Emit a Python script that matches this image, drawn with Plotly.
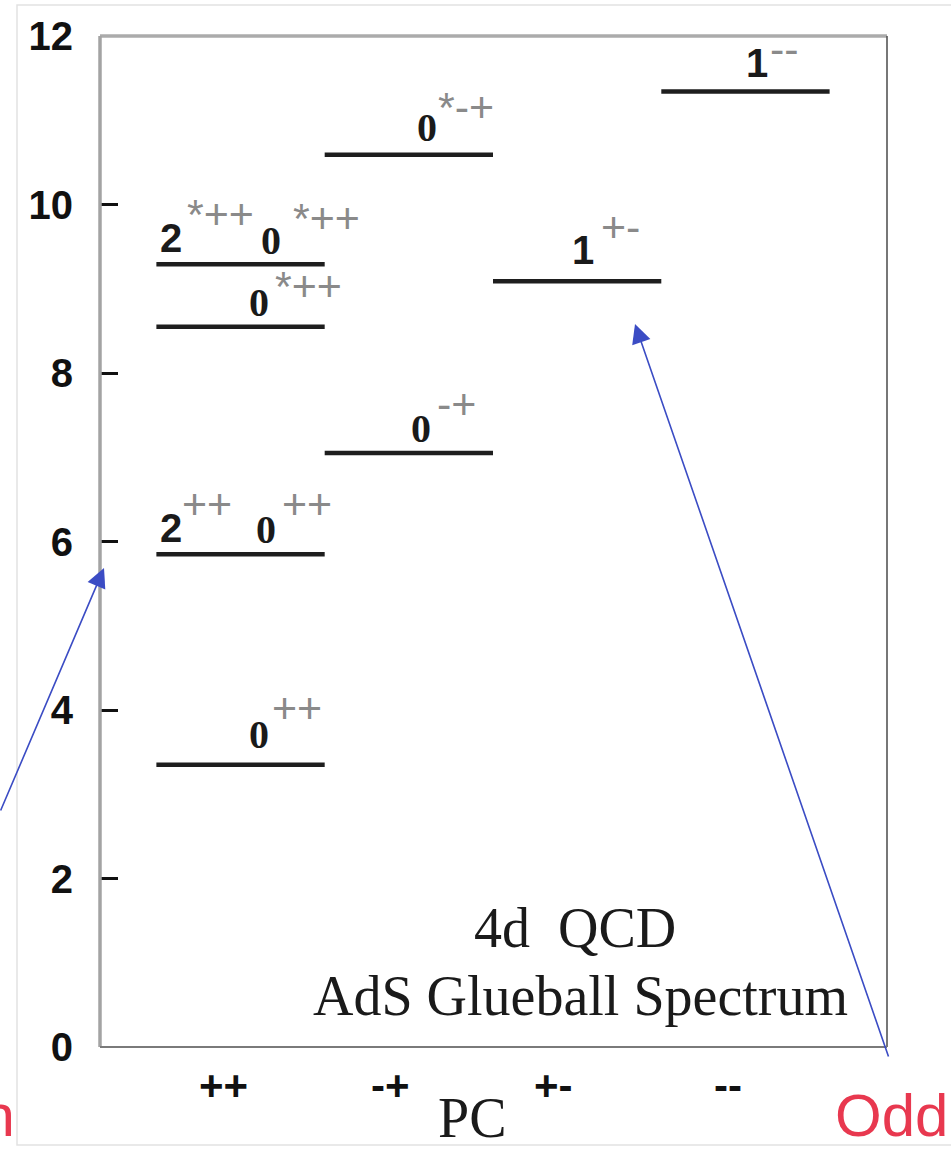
import plotly.graph_objects as go

# ---------------- data ----------------
pc_categories = ["++", "-+", "+-", "--"]
level_pc = ["++", "++", "++", "++", "-+", "-+", "+-", "--"]
level_mass = [3.35, 5.85, 8.55, 9.29, 7.05, 10.59, 9.09, 11.34]
level_states = [
    [("0", "++")],
    [("2", "++"), ("0", "++")],
    [("0", "*++")],
    [("2", "*++"), ("0", "*++")],
    [("0", "-+")],
    [("0", "*-+")],
    [("1", "+-")],
    [("1", "--")],
]
y_ticks = [0, 2, 4, 6, 8, 10, 12]
y_ticktext = ["0", "2", "4", "6", "8", "10", "12"]
title_lines = ["4d  QCD", "AdS Glueball Spectrum"]
x_title = "PC"
side_words = ["Even", "Odd"]

# ---------------- geometry helpers (pixel layout of the picture) ----------------
W, H = 951, 1150
L, R, T, B = 100, 887, 36, 1047


def px(xp):
    return (xp - L) / (R - L)


def py(yp):
    return (B - yp) / (B - T)


cat_x = {c: i + 1 for i, c in enumerate(pc_categories)}

fig = go.Figure()

# level lines
for pc, m in zip(level_pc, level_mass):
    c = cat_x[pc]
    fig.add_trace(go.Scatter(
        x=[c - 0.5, c + 0.5], y=[m, m], mode="lines",
        line=dict(color="#1e1e1e", width=4.5), showlegend=False, hoverinfo="skip"))

# label offsets in pixels (digit dx, dy, superscript dx, dy) per state
label_offsets = [
    [(18, 30, 56, 57)],
    [(-70, 26, -34, 50), (25, 25, 66, 50)],
    [(18, 24, 68, 41)],
    [(-70, 26, -20, 50), (30, 24, 86, 46)],
    [(12, 25, 48, 49)],
    [(18, 27, 57, 48)],
    [(6, 31, 43, 54)],
    [(12, 29, 39, 43)],
]

annotations = []
for pc, m, states, offs in zip(level_pc, level_mass, level_states, label_offsets):
    c = cat_x[pc]
    for (digit, sup), (dx, dy, sx, sy) in zip(states, offs):
        fam = "Liberation Serif" if digit == "0" else "Liberation Sans"
        annotations.append(dict(
            x=c, y=m, xref="x", yref="y", text=digit, showarrow=False,
            xshift=dx, yshift=dy, xanchor="center", yanchor="middle", borderpad=0,
            font=dict(family=fam, size=40, color="#1a1a1a", weight="bold")))
        annotations.append(dict(
            x=c, y=m, xref="x", yref="y", text=sup, showarrow=False,
            xshift=sx, yshift=sy, xanchor="center", yanchor="middle", borderpad=0,
            font=dict(family="Liberation Sans", size=43, color="#8a8a8a")))

# PC tick labels (below the axis)
tick_label_px = [223, 390, 553, 728]
for lab, xp in zip(pc_categories, tick_label_px):
    annotations.append(dict(
        x=px(xp), y=py(1085), xref="paper", yref="paper", text=lab, showarrow=False,
        xanchor="center", yanchor="middle",
        font=dict(family="Liberation Sans", size=42, color="#111111", weight="bold")))

# axis title
annotations.append(dict(
    x=px(472), y=py(1118), xref="paper", yref="paper", text=x_title, showarrow=False,
    xanchor="center", yanchor="middle",
    font=dict(family="Liberation Serif", size=56, color="#1a1a1a")))

# in-plot caption
annotations.append(dict(
    x=px(575), y=py(928), xref="paper", yref="paper", text=title_lines[0], showarrow=False,
    xanchor="center", yanchor="middle",
    font=dict(family="Liberation Serif", size=56, color="#1a1a1a")))
annotations.append(dict(
    x=px(580), y=py(996), xref="paper", yref="paper", text=title_lines[1], showarrow=False,
    xanchor="center", yanchor="middle",
    font=dict(family="Liberation Serif", size=56, color="#1a1a1a")))

# red side words
annotations.append(dict(
    x=px(16), y=py(1150), xref="paper", yref="paper", text=side_words[0], showarrow=False,
    xanchor="right", yanchor="bottom", borderpad=0,
    font=dict(family="Liberation Sans", size=60, color="#e8384f")))
annotations.append(dict(
    x=px(949), y=py(1150), xref="paper", yref="paper", text=side_words[1], showarrow=False,
    xanchor="right", yanchor="bottom", borderpad=0,
    font=dict(family="Liberation Sans", size=60, color="#e8384f")))

# blue arrows
arrow_color = "#3b4cc4"
annotations.append(dict(
    x=px(104), y=py(568), xref="paper", yref="paper", text="", showarrow=True,
    ax=-114, ay=244, arrowhead=2, arrowsize=2.4, arrowwidth=1.6, arrowcolor=arrow_color,
    standoff=0))
annotations.append(dict(
    x=px(635), y=py(324), xref="paper", yref="paper", text="", showarrow=True,
    ax=254, ay=734, arrowhead=2, arrowsize=2.4, arrowwidth=1.6, arrowcolor=arrow_color,
    standoff=0))

shapes = [
    # outer light frame of the picture
    dict(type="rect", xref="paper", yref="paper", x0=px(17), x1=px(960), y0=py(1145), y1=py(5),
         line=dict(color="#e2e2e2", width=1.5), layer="below"),
    # plot box
    dict(type="line", xref="paper", yref="paper", x0=0, x1=1, y0=1, y1=1,
         line=dict(color="#ababab", width=3.5)),
    dict(type="line", xref="paper", yref="paper", x0=0, x1=0, y0=0, y1=1,
         line=dict(color="#a3a3a3", width=3.5)),
    dict(type="line", xref="paper", yref="paper", x0=1, x1=1, y0=0, y1=1,
         line=dict(color="#555555", width=1.6)),
    dict(type="line", xref="paper", yref="paper", x0=0, x1=1, y0=0, y1=0,
         line=dict(color="#7a7a7a", width=2.2)),
]

fig.update_layout(
    width=W, height=H,
    margin=dict(l=L, r=W - R, t=T, b=H - B),
    paper_bgcolor="white", plot_bgcolor="white",
    showlegend=False,
    xaxis=dict(range=[0.165, 4.841], showgrid=False, zeroline=False, showline=False,
               showticklabels=False, ticks=""),
    yaxis=dict(range=[0, 12], tickvals=y_ticks, ticktext=y_ticktext,
               showgrid=False, zeroline=False, showline=False,
               ticks="inside", ticklen=18, tickwidth=3.2, tickcolor="#111111",
               ticklabelstandoff=26,
               tickfont=dict(family="Liberation Sans", size=40, color="#111111", weight="bold")),
    annotations=annotations,
    shapes=shapes,
)

fig.write_html(
    "out.html",
    config={"displayModeBar": False},
    post_script="document.body.style.margin='0';document.body.style.overflow='hidden';",
)
